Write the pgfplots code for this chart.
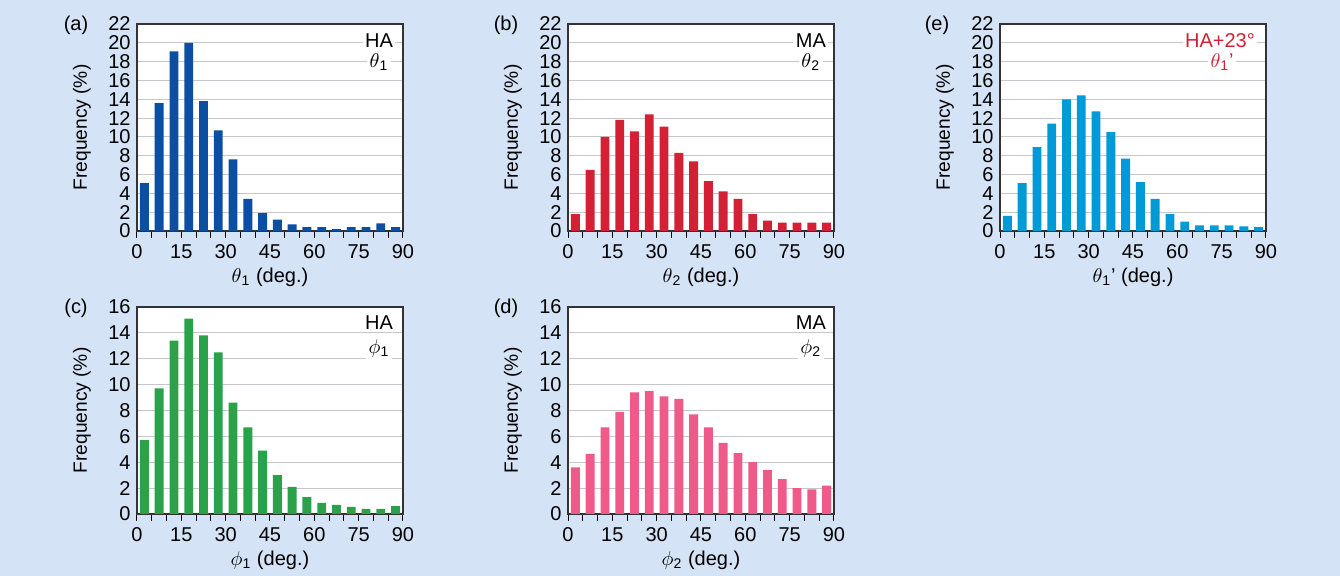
\documentclass[border=0pt]{standalone}
\usepackage{pgfplots}
\pgfplotsset{compat=1.18}
\usepackage{fontspec}
\setmainfont{Liberation Sans}
\definecolor{bg}{HTML}{D4E3F5}
\definecolor{cA}{HTML}{0B4EA2}
\definecolor{cB}{HTML}{D42035}
\definecolor{cC}{HTML}{2BA14A}
\definecolor{cD}{HTML}{EE5A8A}
\definecolor{cE}{HTML}{009AD9}
\definecolor{gridc}{HTML}{C4C8CC}
\definecolor{framec}{HTML}{333333}
\tikzset{lab/.style={fill=white, inner sep=1.2pt, font=\fontsize{10}{11}\selectfont}}
\pgfplotsset{
  hist/.style={
    scale only axis, width=133pt, height=103.5pt, anchor=south west,
    xmin=0, xmax=90, ymin=0,
    xtick={0,15,...,90},
    minor xtick={5,10,20,25,35,40,50,55,65,70,80,85},
    xtick pos=bottom, ytick pos=left,
    tick align=inside,
    major tick length=3.5pt, minor tick length=3.5pt,
    xtick style={black, line width=0.5pt},
    minor tick style={gray, line width=0.5pt},
    ytick style={draw=none},
    ymajorgrids, grid style={gridc, line width=0.5pt},
    axis line style={framec, line width=0.9pt},
    axis background/.style={fill=white},
    ybar, bar width=3, bar shift=0pt,
    font=\fontsize{10}{11}\selectfont,
    /pgf/number format/assume math mode=true,
    xticklabel style={yshift=0.3pt},
    yticklabel style={xshift=0.3pt},
    ylabel={Frequency (\%)},
    ylabel style={at={(axis description cs:-0.207,0.5)}, anchor=center, font=\fontsize{9.6}{11}\selectfont},
    xlabel style={at={(axis description cs:0.5,-0.222)}, anchor=center},
  },
}
\begin{document}
\begin{tikzpicture}[x=1pt,y=1pt]
\fill[bg] (0,0) rectangle (670,288);
\useasboundingbox (0,0) rectangle (670,288);

% (a)
\begin{axis}[hist, at={(68.5pt,172.5pt)}, ymax=22, ytick={0,2,...,22},
  xlabel={$\theta$\textsubscript{1} (deg.)}]
\addplot[draw=none, fill=cA] coordinates {
(2.5,5.1) (7.5,13.6) (12.5,19.1) (17.5,20.0) (22.5,13.8) (27.5,10.7)
(32.5,7.6) (37.5,3.4) (42.5,1.9) (47.5,1.2) (52.5,0.7) (57.5,0.4)
(62.5,0.4) (67.5,0.2) (72.5,0.4) (77.5,0.4) (82.5,0.8) (87.5,0.4)};
\node[lab] at (rel axis cs:0.91,0.918) {HA};
\node[lab] at (rel axis cs:0.91,0.816) {$\theta$\textsubscript{1}};
\end{axis}

% (b)
\begin{axis}[hist, at={(284pt,172.5pt)}, ymax=22, ytick={0,2,...,22},
  xlabel={$\theta$\textsubscript{2} (deg.)}]
\addplot[draw=none, fill=cB] coordinates {
(2.5,1.8) (7.5,6.5) (12.5,10.0) (17.5,11.8) (22.5,10.6) (27.5,12.4)
(32.5,11.1) (37.5,8.3) (42.5,7.4) (47.5,5.3) (52.5,4.2) (57.5,3.4)
(62.5,1.8) (67.5,1.1) (72.5,0.9) (77.5,0.9) (82.5,0.9) (87.5,0.9)};
\node[lab] at (rel axis cs:0.913,0.918) {MA};
\node[lab] at (rel axis cs:0.913,0.816) {$\theta$\textsubscript{2}};
\end{axis}

% (e)
\begin{axis}[hist, at={(500pt,172.5pt)}, ymax=22, ytick={0,2,...,22},
  xlabel={$\theta$\textsubscript{1}’ (deg.)}]
\addplot[draw=none, fill=cE] coordinates {
(2.5,1.6) (7.5,5.1) (12.5,8.9) (17.5,11.4) (22.5,14.0) (27.5,14.4)
(32.5,12.7) (37.5,10.5) (42.5,7.7) (47.5,5.2) (52.5,3.4) (57.5,1.8)
(62.5,1.0) (67.5,0.6) (72.5,0.6) (77.5,0.6) (82.5,0.5) (87.5,0.4)};
\node[lab, text=cB] at (rel axis cs:0.827,0.918) {HA+23°};
\node[lab, text=cB] at (rel axis cs:0.835,0.816) {$\theta$\textsubscript{1}’};
\end{axis}

% (c)
\begin{axis}[hist, at={(68.5pt,31pt)}, ymax=16, ytick={0,2,...,16},
  xlabel={$\phi$\textsubscript{1} (deg.)}]
\addplot[draw=none, fill=cC] coordinates {
(2.5,5.7) (7.5,9.7) (12.5,13.4) (17.5,15.1) (22.5,13.8) (27.5,12.5)
(32.5,8.6) (37.5,6.7) (42.5,4.9) (47.5,3.0) (52.5,2.1) (57.5,1.3)
(62.5,0.85) (67.5,0.7) (72.5,0.55) (77.5,0.4) (82.5,0.4) (87.5,0.6)};
\node[lab] at (rel axis cs:0.91,0.923) {HA};
\node[lab] at (rel axis cs:0.91,0.80) {$\phi$\textsubscript{1}};
\end{axis}

% (d)
\begin{axis}[hist, at={(284pt,31pt)}, ymax=16, ytick={0,2,...,16},
  xlabel={$\phi$\textsubscript{2} (deg.)}]
\addplot[draw=none, fill=cD] coordinates {
(2.5,3.6) (7.5,4.65) (12.5,6.7) (17.5,7.9) (22.5,9.4) (27.5,9.5)
(32.5,9.1) (37.5,8.9) (42.5,7.7) (47.5,6.7) (52.5,5.5) (57.5,4.7)
(62.5,4.0) (67.5,3.4) (72.5,2.7) (77.5,2.0) (82.5,1.9) (87.5,2.2)};
\node[lab] at (rel axis cs:0.913,0.923) {MA};
\node[lab] at (rel axis cs:0.913,0.80) {$\phi$\textsubscript{2}};
\end{axis}

\begin{scope}[font=\fontsize{10}{11}\selectfont]
\node at (38,275.5) {(a)};
\node at (253,275.5) {(b)};
\node at (468.5,275.5) {(e)};
\node at (38,134) {(c)};
\node at (253,134) {(d)};
\end{scope}
\end{tikzpicture}
\end{document}
